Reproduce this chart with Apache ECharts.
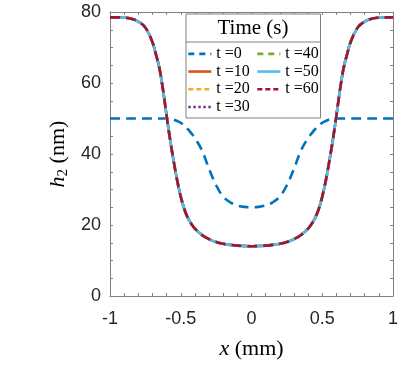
<!DOCTYPE html>
<html><head><meta charset="utf-8">
<script src="https://cdn.jsdelivr.net/npm/echarts@6/dist/echarts.min.js"></script>
<style>html,body{margin:0;padding:0;background:#fff}#c{width:407px;height:370px}</style>
</head><body><div id="c"></div>
<script>
// x positions (mm)
const xVals = [-1, -0.95, -0.9, -0.85, -0.8, -0.75, -0.7, -0.675, -0.65, -0.625, -0.6, -0.575, -0.55, -0.525, -0.5, -0.475, -0.45, -0.425, -0.4, -0.35, -0.3, -0.25, -0.2, -0.15, -0.1, -0.05, 0,
  0.05, 0.1, 0.15, 0.2, 0.25, 0.3, 0.35, 0.4, 0.425, 0.45, 0.475, 0.5, 0.525, 0.55, 0.575, 0.6, 0.625, 0.65, 0.675, 0.7, 0.75, 0.8, 0.85, 0.9, 0.95, 1];
// t = 0 profile (nm)
const h0 = [50, 50, 50, 50, 50, 50, 50, 50, 50, 50, 50, 49.9, 49.7, 49.3, 48.8, 48, 47, 45.8, 44.5, 41, 35.8, 31.2, 28, 26.4, 25.5, 25.1, 25,
  25.1, 25.5, 26.4, 28, 31.2, 35.8, 41, 44.5, 45.8, 47, 48, 48.8, 49.3, 49.7, 49.9, 50, 50, 50, 50, 50, 50, 50, 50, 50, 50, 50];
// t = 10 ... 60 profiles (nm) - coincide in the figure
const hFinal = [78.5, 78.5, 78.4, 78.1, 77.3, 75.6, 71.5, 68, 64, 58, 50.8, 44, 38, 32.5, 28, 24.5, 22, 20.3, 19, 17.2, 16, 15.2, 14.7, 14.4, 14.2, 14.1, 14,
  14.1, 14.2, 14.4, 14.7, 15.2, 16, 17.2, 19, 20.3, 22, 24.5, 28, 32.5, 38, 44, 50.8, 58, 64, 68, 71.5, 75.6, 77.3, 78.1, 78.4, 78.5, 78.5];
const h10 = hFinal, h20 = hFinal, h30 = hFinal, h40 = hFinal, h50 = hFinal, h60 = hFinal;

const seriesNames = ['t =0', 't =10', 't =20', 't =30', 't =40', 't =50', 't =60'];
const seriesData = [h0, h10, h20, h30, h40, h50, h60];
const seriesColors = ['#0072BD', '#D95319', '#EDB120', '#7E2F8E', '#77AC30', '#4DBEEE', '#A2142F'];
const seriesDash = [[10, 6], 'solid', [8, 4, 2, 4], [2.5, 2.5], [8, 4, 2, 4], 'solid', [10, 6]];
const legendDash = [[6, 5], 'solid', [5, 3], [2.5, 2.5], [6, 5], 'solid', [5, 3]];
const legendCol1 = ['t =0', 't =10', 't =20', 't =30'];
const legendCol2 = ['t =40', 't =50', 't =60'];

const axisCol = '#808080';
const tickCol = '#262626';
const sansFont = 'Liberation Sans';
const serifFont = 'Liberation Serif';

const chart = echarts.init(document.getElementById('c'), null, {renderer: 'canvas'});

const baseTick = {show: true, inside: true, length: 3, lineStyle: {color: axisCol, width: 1}};
const baseLine = {show: true, onZero: false, lineStyle: {color: axisCol, width: 1}};

function legendItems(names) {
  return names.map(n => {
    const k = seriesNames.indexOf(n);
    return {
      name: n,
      itemStyle: {opacity: 0},
      lineStyle: {color: seriesColors[k], width: 2.6, type: legendDash[k], opacity: 1}
    };
  });
}

const legendText = {fontFamily: serifFont, fontSize: 16, color: '#000', lineHeight: 17.7};

const option = {
  animation: false,
  backgroundColor: '#fff',
  grid: {left: 110, right: 14, top: 12, bottom: 74, containLabel: false},
  xAxis: [{
    type: 'value', min: -1, max: 1, interval: 0.5,
    axisLine: baseLine, axisTick: baseTick,
    minorTick: {show: true, splitNumber: 5, length: 3, lineStyle: {color: axisCol}},
    splitLine: {show: false},
    axisLabel: {color: tickCol, fontFamily: sansFont, fontSize: 18, margin: 14},
    name: '{i|x} (mm)', nameLocation: 'middle', nameGap: 42,
    nameTextStyle: {fontFamily: serifFont, fontSize: 22, color: '#000',
      rich: {i: {fontFamily: serifFont, fontStyle: 'italic', fontSize: 22, color: '#000'}}}
  }, {
    type: 'value', min: -1, max: 1, interval: 0.5, position: 'top',
    axisLine: baseLine, axisTick: baseTick,
    minorTick: {show: true, splitNumber: 5, length: 3, lineStyle: {color: axisCol}},
    splitLine: {show: false}, axisLabel: {show: false}
  }],
  yAxis: [{
    type: 'value', min: 0, max: 80, interval: 20,
    axisLine: baseLine, axisTick: baseTick,
    minorTick: {show: true, splitNumber: 4, length: 3, lineStyle: {color: axisCol}},
    splitLine: {show: false},
    axisLabel: {color: tickCol, fontFamily: sansFont, fontSize: 18, margin: 9},
    name: '{i|h}{s|2} (nm)', nameLocation: 'middle', nameGap: 35, nameRotate: 90,
    nameTextStyle: {fontFamily: serifFont, fontSize: 22, color: '#000',
      rich: {i: {fontFamily: serifFont, fontStyle: 'italic', fontSize: 22, color: '#000'},
             s: {fontFamily: serifFont, fontSize: 15, color: '#000', padding: [8, 0, 0, 0]}}}
  }, {
    type: 'value', min: 0, max: 80, interval: 20, position: 'right',
    axisLine: baseLine, axisTick: baseTick,
    minorTick: {show: true, splitNumber: 4, length: 3, lineStyle: {color: axisCol}},
    splitLine: {show: false}, axisLabel: {show: false}
  }],
  legend: [{
    data: legendItems(legendCol1), orient: 'vertical', left: 187, top: 45, padding: 0,
    itemWidth: 23, itemHeight: 14, itemGap: 0, z: 5,
    textStyle: legendText, selectedMode: false
  }, {
    data: legendItems(legendCol2), orient: 'vertical', left: 256, top: 45, padding: 0,
    itemWidth: 23, itemHeight: 14, itemGap: 0, z: 5,
    textStyle: legendText, selectedMode: false
  }],
  graphic: [
    {type: 'rect', z: 3, shape: {x: 186, y: 14, width: 134.5, height: 104},
     style: {fill: '#fff', stroke: axisCol, lineWidth: 1}},
    {type: 'line', z: 3, shape: {x1: 186, y1: 42, x2: 320.5, y2: 42},
     style: {stroke: axisCol, lineWidth: 1}},
    {type: 'text', z: 4, x: 253, y: 28,
     style: {text: 'Time (s)', font: '21px "Liberation Serif"', fill: '#000', align: 'center', verticalAlign: 'middle'}}
  ],
  series: seriesNames.map((name, k) => ({
    name: name, type: 'line', xAxisIndex: 0, yAxisIndex: 0,
    data: xVals.map((x, i) => [x, seriesData[k][i]]),
    symbol: 'none', smooth: 0.4, z: 2,
    lineStyle: {color: seriesColors[k], width: 2.6, type: seriesDash[k]},
    itemStyle: {color: seriesColors[k]}
  }))
};
chart.setOption(option);
</script>
</body></html>
